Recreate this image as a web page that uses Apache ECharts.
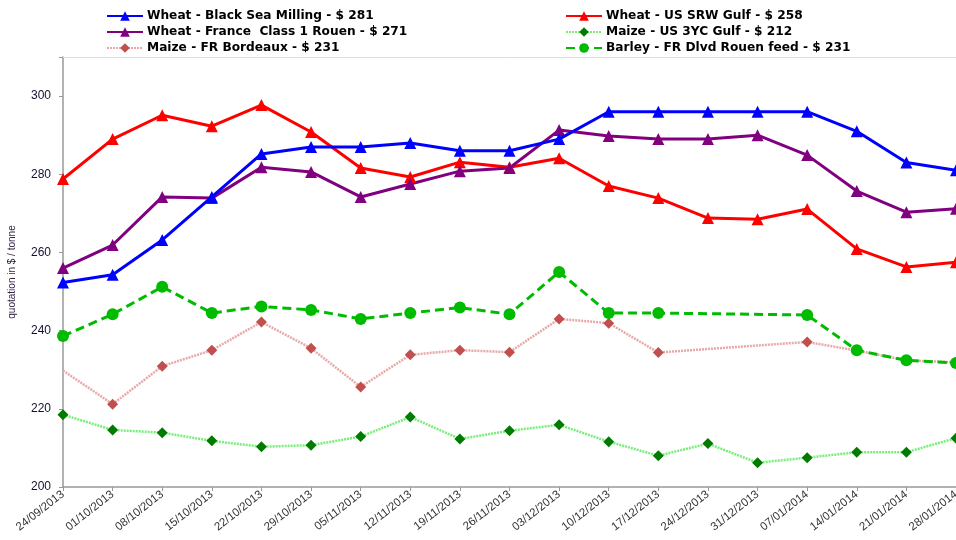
<!DOCTYPE html>
<html><head><meta charset="utf-8">
<script src="https://cdn.jsdelivr.net/npm/echarts@6/dist/echarts.min.js"></script>
<style>html,body{margin:0;padding:0;background:#fff}#c{width:956px;height:540px}</style>
</head><body><div id="c"></div>
<script>
const categories = ["24/09/2013","01/10/2013","08/10/2013","15/10/2013","22/10/2013","29/10/2013","05/11/2013","12/11/2013","19/11/2013","26/11/2013","03/12/2013","10/12/2013","17/12/2013","24/12/2013","31/12/2013","07/01/2014","14/01/2014","21/01/2014","28/01/2014"];
const wheatBlackSea = [252.3,254.3,263.2,274.2,285.2,287,287,288,286,286,289,296,296,296,296,296,291,283,281];
const wheatUsSrw    = [278.8,289,295.1,292.3,297.7,290.8,281.6,279.3,283.1,281.8,284.1,277,273.9,268.8,268.5,271.1,260.9,256.3,257.5];
const wheatFrance   = [256,261.9,274.2,273.9,281.8,280.6,274.2,277.5,280.8,281.6,291.3,289.8,289,289,290,284.9,275.7,270.3,271.2];
const maizeUs3yc    = [218.5,214.6,213.9,211.8,210.3,210.7,212.9,217.9,212.3,214.4,215.9,211.6,208,211.1,206.2,207.5,208.9,208.9,212.5];
const maizeFrBdx    = [229.8,221.2,230.9,235,242.2,235.5,225.6,233.8,235,234.5,243,241.9,234.4,null,null,237.1,234.9,232.4,231.9];
const barleyRouen   = [238.6,244.2,251.2,244.5,246.2,245.3,243,244.5,245.9,244.2,255,244.5,244.5,null,null,244,235,232.4,231.7];
const seriesNames = ["Wheat - Black Sea Milling - $ 281","Wheat - US SRW Gulf - $ 258","Wheat - France  Class 1 Rouen - $ 271","Maize - US 3YC Gulf - $ 212","Maize - FR Bordeaux - $ 231","Barley - FR Dlvd Rouen feed - $ 231"];
const yTicks = {min:200, max:310, interval:20};

const chart = echarts.init(document.getElementById('c'));
const bordeauxData = maizeFrBdx.map((v,i)=> i===0 ? {value:v, symbol:'none'} : v);
const legendText = {fontFamily:'DejaVu Sans', fontWeight:'bold', fontSize:12.2, color:'#000', padding:[0,0,0,-1]};
chart.setOption({
  animation:false,
  backgroundColor:'#fff',
  legend:[
    {left:101, top:5, orient:'vertical', itemGap:4, itemWidth:36, itemHeight:12, textStyle:legendText,
     data:[seriesNames[0],seriesNames[2],seriesNames[4]]},
    {left:560, top:5, orient:'vertical', itemGap:4, itemWidth:36, itemHeight:12, textStyle:legendText,
     data:[seriesNames[1],seriesNames[3],seriesNames[5]]}
  ],
  grid:{left:63, right:0, top:57, bottom:53, outerBoundsMode:'none', containLabel:false},
  xAxis:[{
    type:'category', data:categories, boundaryGap:false,
    axisLine:{lineStyle:{color:'#999', width:1.5}},
    axisTick:{show:true, alignWithLabel:true, length:4, lineStyle:{color:'#999'}},
    axisLabel:{rotate:38, fontSize:11.5, color:'#333', fontFamily:'Liberation Sans, Arial', margin:6, interval:0, hideOverlap:false}
  },{
    type:'category', data:categories, position:'top', boundaryGap:false,
    axisLine:{lineStyle:{color:'#ddd', width:1}}, axisTick:{show:false}, axisLabel:{show:false}
  }],
  yAxis:{
    type:'value', min:yTicks.min, max:yTicks.max, interval:yTicks.interval,
    name:'quotation in $ / tonne', nameLocation:'middle', nameGap:46, nameRotate:90,
    nameTextStyle:{fontSize:10, color:'#332244', fontFamily:'Liberation Sans, Arial'},
    axisLine:{show:true, lineStyle:{color:'#999', width:1.5}},
    axisTick:{show:true, length:4, lineStyle:{color:'#999'}},
    splitLine:{show:false},
    axisLabel:{fontSize:12, color:'#111133', fontFamily:'Liberation Sans, Arial', margin:12,
      formatter:v=> v>300 ? '' : v}
  },
  series:[
    {name:seriesNames[0], type:'line', data:wheatBlackSea, color:'#0000ff', symbol:'triangle', symbolSize:12,
     lineStyle:{width:3, color:'#0000ff'}, itemStyle:{color:'#0000ff'}, z:6},
    {name:seriesNames[1], type:'line', data:wheatUsSrw, color:'#ff0000', symbol:'triangle', symbolSize:12,
     lineStyle:{width:3, color:'#ff0000'}, itemStyle:{color:'#ff0000'}, z:5},
    {name:seriesNames[2], type:'line', data:wheatFrance, color:'#800080', symbol:'triangle', symbolSize:12,
     lineStyle:{width:3, color:'#800080'}, itemStyle:{color:'#800080'}, z:5},
    {name:seriesNames[3], type:'line', data:maizeUs3yc, color:'#007a00', symbol:'diamond', symbolSize:11,
     lineStyle:{width:2.5, color:'#77ee77', type:[2,1]}, itemStyle:{color:'#007a00'}, z:3},
    {name:seriesNames[4], type:'line', data:bordeauxData, color:'#c0504d', symbol:'diamond', symbolSize:11, connectNulls:true,
     lineStyle:{width:2.5, color:'#e8a8a8', type:[2,1]}, itemStyle:{color:'#c0504d'}, z:3},
    {name:seriesNames[5], type:'line', data:barleyRouen, color:'#00bb00', symbol:'circle', symbolSize:12, connectNulls:true,
     lineStyle:{width:3, color:'#00bb00', type:[9,5]}, itemStyle:{color:'#00bb00'}, z:4}
  ]
});
</script></body></html>
